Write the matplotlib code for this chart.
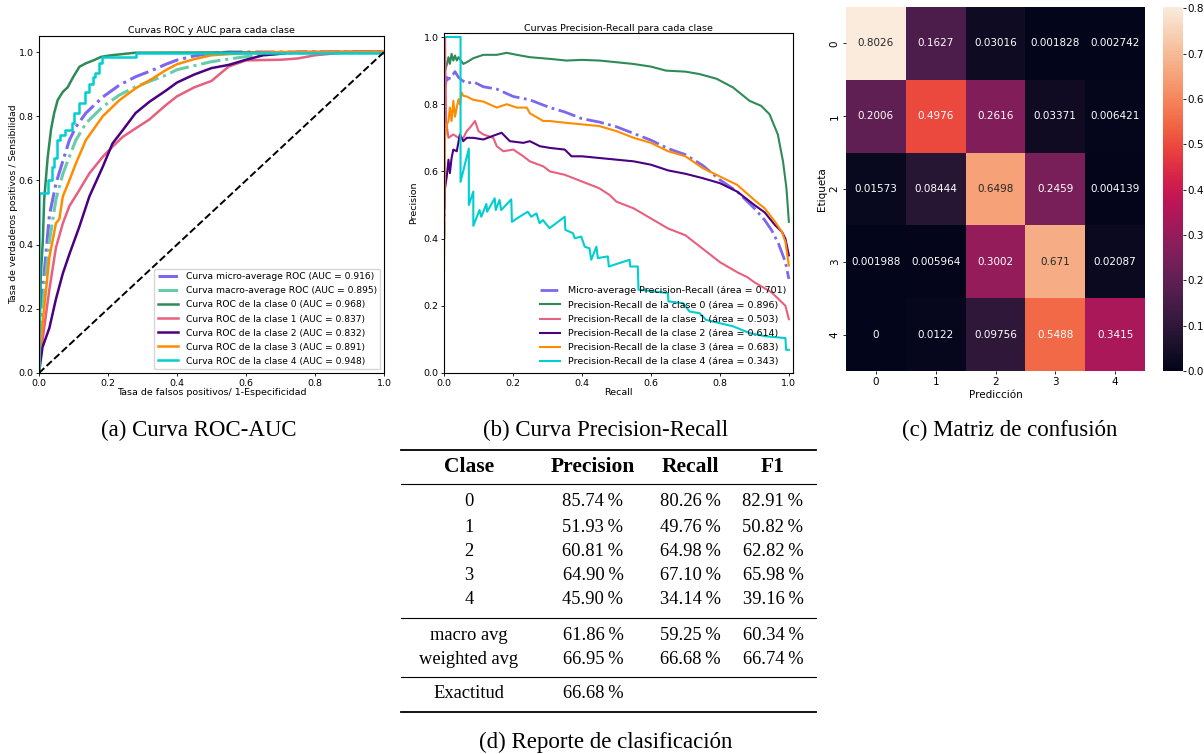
import numpy as np
import matplotlib
matplotlib.use('Agg')
import matplotlib.pyplot as plt
import seaborn as sns

# ---- ROC ----
fpr_micro = [0, 0.002, 0.01, 0.03, 0.049, 0.069, 0.088, 0.107, 0.136, 0.185, 0.233, 0.28, 0.33, 0.368, 0.4, 0.45, 0.5, 0.55, 1.0]
tpr_micro = [0, 0.12, 0.25, 0.49, 0.59, 0.66, 0.725, 0.767, 0.81, 0.86, 0.897, 0.923, 0.944, 0.962, 0.975, 0.988, 0.996, 1.0, 1.0]
fpr_macro = [0, 0.002, 0.01, 0.03, 0.049, 0.069, 0.088, 0.107, 0.136, 0.185, 0.233, 0.28, 0.368, 0.4, 0.5, 0.6, 0.7, 0.8, 1.0]
tpr_macro = [0, 0.1, 0.2, 0.41, 0.54, 0.62, 0.674, 0.726, 0.778, 0.83, 0.866, 0.892, 0.928, 0.945, 0.97, 0.986, 0.995, 0.999, 1.0]
fpr_0 = [0, 0.005, 0.011, 0.015, 0.025, 0.035, 0.044, 0.054, 0.069, 0.083, 0.098, 0.117, 0.136, 0.16, 0.18, 0.21, 0.28, 1.0]
tpr_0 = [0, 0.3, 0.41, 0.54, 0.67, 0.76, 0.81, 0.85, 0.876, 0.89, 0.92, 0.954, 0.965, 0.975, 0.985, 0.99, 0.998, 1.0]
fpr_1 = [0, 0.003, 0.01, 0.03, 0.049, 0.069, 0.088, 0.117, 0.146, 0.185, 0.213, 0.243, 0.28, 0.32, 0.368, 0.4, 0.45, 0.5, 0.55, 0.6, 0.7, 0.75, 0.8, 0.9, 1.0]
tpr_1 = [0, 0.05, 0.1, 0.26, 0.39, 0.466, 0.52, 0.57, 0.622, 0.674, 0.705, 0.736, 0.762, 0.79, 0.835, 0.862, 0.89, 0.91, 0.955, 0.974, 0.976, 0.98, 0.99, 1.0, 1.0]
fpr_2 = [0, 0.01, 0.03, 0.049, 0.069, 0.088, 0.117, 0.146, 0.185, 0.213, 0.243, 0.28, 0.32, 0.368, 0.4, 0.45, 0.5, 0.55, 0.6, 0.65, 0.7, 0.75, 1.0]
tpr_2 = [0, 0.08, 0.14, 0.23, 0.31, 0.37, 0.456, 0.55, 0.643, 0.715, 0.757, 0.81, 0.845, 0.88, 0.905, 0.93, 0.95, 0.96, 0.976, 0.99, 0.995, 1.0, 1.0]
fpr_3 = [0, 0.003, 0.01, 0.03, 0.049, 0.059, 0.069, 0.088, 0.107, 0.136, 0.185, 0.233, 0.28, 0.33, 0.368, 0.4, 0.45, 0.5, 0.6, 0.7, 1.0]
tpr_3 = [0, 0.08, 0.15, 0.36, 0.466, 0.48, 0.55, 0.6, 0.653, 0.726, 0.8, 0.85, 0.887, 0.918, 0.944, 0.962, 0.978, 0.99, 0.997, 1.0, 1.0]
fpr_4 = [0, 0.001, 0.025, 0.037, 0.044, 0.051, 0.06, 0.075, 0.095, 0.102, 0.117, 0.134, 0.146, 0.156, 0.163, 0.173, 0.183, 0.281, 1.0]
tpr_4 = [0, 0.56, 0.60, 0.643, 0.67, 0.726, 0.741, 0.757, 0.78, 0.809, 0.84, 0.876, 0.902, 0.923, 0.934, 0.965, 0.985, 0.998, 1.0]
auc_roc = [0.916, 0.895, 0.968, 0.837, 0.832, 0.891, 0.948]

# ---- Precision-Recall ----
rec_micro = [0, 0.003, 0.008, 0.013, 0.017, 0.027, 0.032, 0.042, 0.051, 0.066, 0.085, 0.114, 0.153, 0.201, 0.249, 0.307, 0.35, 0.4, 0.45, 0.5, 0.55, 0.6, 0.65, 0.7, 0.75, 0.8, 0.85, 0.9, 0.93, 0.95, 0.97, 0.99, 1.0]
prec_micro = [0.4, 0.85, 0.88, 0.865, 0.885, 0.89, 0.897, 0.88, 0.872, 0.862, 0.867, 0.852, 0.845, 0.823, 0.813, 0.79, 0.777, 0.757, 0.747, 0.733, 0.713, 0.693, 0.668, 0.65, 0.618, 0.575, 0.54, 0.49, 0.455, 0.425, 0.385, 0.33, 0.28]
rec_0 = [0, 0.003, 0.008, 0.013, 0.017, 0.022, 0.027, 0.032, 0.037, 0.042, 0.056, 0.066, 0.085, 0.114, 0.153, 0.182, 0.211, 0.249, 0.307, 0.355, 0.4, 0.451, 0.5, 0.548, 0.6, 0.644, 0.7, 0.74, 0.79, 0.838, 0.886, 0.92, 0.944, 0.968, 0.983, 0.993, 1.0]
prec_0 = [1.0, 0.9, 0.917, 0.94, 0.92, 0.95, 0.93, 0.945, 0.93, 0.94, 0.92, 0.925, 0.937, 0.947, 0.947, 0.953, 0.947, 0.94, 0.935, 0.93, 0.932, 0.93, 0.925, 0.92, 0.912, 0.9, 0.897, 0.89, 0.876, 0.85, 0.81, 0.795, 0.77, 0.71, 0.63, 0.55, 0.45]
rec_1 = [0.001, 0.003, 0.006, 0.013, 0.027, 0.042, 0.056, 0.066, 0.075, 0.09, 0.1, 0.114, 0.143, 0.153, 0.172, 0.201, 0.23, 0.249, 0.288, 0.307, 0.35, 0.4, 0.45, 0.48, 0.5, 0.55, 0.6, 0.65, 0.7, 0.75, 0.8, 0.85, 0.88, 0.9, 0.95, 0.97, 0.99, 1.0]
prec_1 = [0.7, 1.0, 0.75, 0.70, 0.71, 0.70, 0.70, 0.72, 0.73, 0.75, 0.72, 0.71, 0.70, 0.675, 0.66, 0.665, 0.645, 0.63, 0.615, 0.60, 0.59, 0.57, 0.55, 0.53, 0.51, 0.49, 0.46, 0.43, 0.41, 0.37, 0.33, 0.30, 0.285, 0.27, 0.24, 0.22, 0.20, 0.16]
rec_2 = [0, 0.003, 0.008, 0.013, 0.017, 0.022, 0.027, 0.037, 0.046, 0.056, 0.066, 0.085, 0.114, 0.153, 0.167, 0.191, 0.23, 0.249, 0.278, 0.307, 0.35, 0.37, 0.4, 0.45, 0.5, 0.55, 0.6, 0.65, 0.7, 0.75, 0.8, 0.85, 0.9, 0.93, 0.96, 0.98, 0.99, 1.0]
prec_2 = [0.45, 0.55, 0.585, 0.635, 0.595, 0.64, 0.665, 0.66, 0.71, 0.69, 0.70, 0.70, 0.695, 0.71, 0.715, 0.69, 0.685, 0.69, 0.675, 0.67, 0.665, 0.645, 0.645, 0.64, 0.635, 0.63, 0.62, 0.603, 0.593, 0.58, 0.565, 0.54, 0.50, 0.478, 0.44, 0.42, 0.40, 0.35]
rec_3 = [0, 0.003, 0.008, 0.013, 0.017, 0.022, 0.027, 0.032, 0.037, 0.042, 0.046, 0.051, 0.056, 0.066, 0.085, 0.114, 0.153, 0.182, 0.211, 0.24, 0.249, 0.288, 0.307, 0.35, 0.4, 0.45, 0.5, 0.55, 0.6, 0.65, 0.7, 0.75, 0.8, 0.85, 0.9, 0.93, 0.96, 0.98, 0.99, 1.0]
prec_3 = [0.3, 0.70, 0.74, 0.75, 0.79, 0.75, 0.81, 0.763, 0.79, 0.815, 0.80, 0.835, 0.825, 0.823, 0.813, 0.808, 0.79, 0.80, 0.79, 0.79, 0.773, 0.75, 0.75, 0.745, 0.74, 0.735, 0.72, 0.70, 0.685, 0.66, 0.645, 0.61, 0.585, 0.56, 0.515, 0.49, 0.45, 0.42, 0.39, 0.32]
rec_4 = [0, 0.048, 0.048, 0.072, 0.072, 0.085, 0.085, 0.103, 0.108, 0.123,
         0.125, 0.147, 0.150, 0.161, 0.166, 0.195, 0.197, 0.219, 0.243, 0.253,
         0.268, 0.277, 0.287, 0.306, 0.350, 0.352, 0.374, 0.379, 0.398, 0.408,
         0.422, 0.427, 0.442, 0.446, 0.475, 0.478, 0.538, 0.540, 0.562, 0.564,
         0.606, 0.649, 0.651, 0.693, 0.712, 0.741, 0.760, 0.838, 0.886, 0.934,
         0.990, 0.992, 1.0]
prec_4 = [1.0, 1.0, 0.569, 0.668, 0.500, 0.540, 0.438, 0.485, 0.465, 0.503,
          0.480, 0.520, 0.485, 0.515, 0.485, 0.517, 0.450, 0.465, 0.480, 0.465,
          0.475, 0.446, 0.455, 0.431, 0.465, 0.426, 0.416, 0.401, 0.406, 0.376,
          0.371, 0.337, 0.376, 0.342, 0.347, 0.317, 0.337, 0.317, 0.317, 0.248,
          0.243, 0.238, 0.213, 0.208, 0.183, 0.178, 0.158, 0.139, 0.119, 0.109,
          0.104, 0.069, 0.069]
area_pr = [0.701, 0.896, 0.503, 0.614, 0.683, 0.343]

# ---- Matriz de confusion (normalizada) ----
cm = np.array([[0.8026, 0.1627, 0.03016, 0.001828, 0.002742],
               [0.2006, 0.4976, 0.2616, 0.03371, 0.006421],
               [0.01573, 0.08444, 0.6498, 0.2459, 0.004139],
               [0.001988, 0.005964, 0.3002, 0.671, 0.02087],
               [0, 0.0122, 0.09756, 0.5488, 0.3415]])

# ---- Reporte de clasificacion ----
clases = ['0', '1', '2', '3', '4']
precision = [85.74, 51.93, 60.81, 64.90, 45.90]
recall = [80.26, 49.76, 64.98, 67.10, 34.14]
f1 = [82.91, 50.82, 62.82, 65.98, 39.16]
avg_names = ['macro avg', 'weighted avg']
avg_precision = [61.86, 66.95]
avg_recall = [59.25, 66.68]
avg_f1 = [60.34, 66.74]
exactitud = 66.68

colors = ['#2e8b57', '#e8607f', '#4b0082', '#ff8c00', '#00ced1']
c_micro = '#7b68ee'
c_macro = '#66cdaa'

W, H = 1204, 754
fig = plt.figure(figsize=(W / 100, H / 100), dpi=100)


def box(l, t, r, b):
    return [l / W, 1 - b / H, (r - l) / W, (b - t) / H]


fs = 6.8
# ROC
ax1 = fig.add_axes(box(39, 36, 384, 373))
ax1.plot(fpr_micro, tpr_micro, color=c_micro, ls='-.', lw=2.2,
         label='Curva micro-average ROC (AUC = {:.3f})'.format(auc_roc[0]))
ax1.plot(fpr_macro, tpr_macro, color=c_macro, ls='-.', lw=2.2,
         label='Curva macro-average ROC (AUC = {:.3f})'.format(auc_roc[1]))
roc_x = [fpr_0, fpr_1, fpr_2, fpr_3, fpr_4]
roc_y = [tpr_0, tpr_1, tpr_2, tpr_3, tpr_4]
for i in range(5):
    ds = 'steps-post' if i == 4 else 'default'
    ax1.plot(roc_x[i], roc_y[i], color=colors[i], lw=1.8, drawstyle=ds,
             label='Curva ROC de la clase {} (AUC = {:.3f})'.format(i, auc_roc[i + 2]))
ax1.plot([0, 1], [0, 1], 'k--', lw=1.4)
ax1.set_xlim(0, 1.0)
ax1.set_ylim(0, 1.05)
ax1.set_title('Curvas ROC y AUC para cada clase', fontsize=fs, pad=2)
ax1.set_xlabel('Tasa de falsos positivos/ 1-Especificidad', fontsize=fs, labelpad=0)
ax1.set_ylabel('Tasa de verdaderos positivos / Sensibilidad', fontsize=6.7, labelpad=0.5)
ax1.tick_params(labelsize=fs, length=2.5, width=0.6, pad=1.5)
ax1.legend(loc='lower right', fontsize=6.6, handlelength=2.2, borderpad=0.4,
           labelspacing=0.55, borderaxespad=0.4)

# Precision-Recall
ax2 = fig.add_axes(box(444, 33, 793, 373))
ax2.plot(rec_micro, prec_micro, color=c_micro, ls='-.', lw=2.0,
         label='Micro-average Precision-Recall (área = {:.3f})'.format(area_pr[0]))
pr_x = [rec_0, rec_1, rec_2, rec_3, rec_4]
pr_y = [prec_0, prec_1, prec_2, prec_3, prec_4]
for i in range(5):
    ax2.plot(pr_x[i], pr_y[i], color=colors[i], lw=1.5,
             label='Precision-Recall de la clase {} (área = {:.3f})'.format(i, area_pr[i + 1]))
ax2.set_xlim(0, 1.012)
ax2.set_ylim(0, 1.012)
ax2.set_title('Curvas Precision-Recall para cada clase', fontsize=fs, pad=1.5)
ax2.set_xlabel('Recall', fontsize=fs, labelpad=0)
ax2.set_ylabel('Precision', fontsize=fs, labelpad=4)
ax2.tick_params(labelsize=fs, length=2.5, width=0.6, pad=1.5)
ax2.legend(loc='lower right', fontsize=6.8, frameon=False, handlelength=2.2,
           labelspacing=0.55, borderaxespad=0.3)

# Matriz de confusion
ax3 = fig.add_axes(box(846, 7, 1145, 371))
cax = fig.add_axes(box(1163, 7, 1183, 371))
sns.heatmap(cm, annot=True, fmt='.4g', ax=ax3, cbar_ax=cax,
            annot_kws={'size': 7.5})
ax3.set_xlabel('Predicción', fontsize=7.5, labelpad=2)
ax3.set_ylabel('Etiqueta', fontsize=7.5, labelpad=2)
ax3.tick_params(labelsize=7.5, length=2.5, width=0.6, pad=2)
plt.setp(ax3.get_yticklabels(), rotation=90, va='center')
cax.tick_params(labelsize=7.5, length=2.5, width=0.6, pad=1)

# Subtitulos y tabla
serif = ['Liberation Serif', 'DejaVu Serif']
ov = fig.add_axes([0, 0, 1, 1])
ov.set_xlim(0, W)
ov.set_ylim(H, 0)
ov.axis('off')

cap_fs = 16.5
ov.text(199, 430, '(a) Curva ROC-AUC', fontsize=cap_fs, family=serif, ha='center', va='center')
ov.text(606, 430, '(b) Curva Precision-Recall', fontsize=cap_fs, family=serif, ha='center', va='center')
ov.text(1010, 430, '(c) Matriz de confusión', fontsize=cap_fs, family=serif, ha='center', va='center')
ov.text(606, 742, '(d) Reporte de clasificación', fontsize=cap_fs, family=serif, ha='center', va='center')

col_x = [469, 593, 690, 773]
tfs = 13.3
for x, h in zip(col_x, ['Clase', 'Precision', 'Recall', 'F1']):
    ov.text(x, 467, h, fontsize=15.5, family=serif, weight='bold', ha='center', va='center')


def pct(v):
    return '{:.2f}\u2009%'.format(v)


row_y = [502, 527, 551, 576, 600]
for i in range(len(clases)):
    vals = [clases[i], pct(precision[i]), pct(recall[i]), pct(f1[i])]
    for x, v in zip(col_x, vals):
        ov.text(x, row_y[i], v, fontsize=tfs, family=serif, ha='center', va='center')

avg_y = [635, 660]
for i in range(len(avg_names)):
    vals = [avg_names[i], pct(avg_precision[i]), pct(avg_recall[i]), pct(avg_f1[i])]
    for x, v in zip(col_x, vals):
        ov.text(x, avg_y[i], v, fontsize=tfs, family=serif, ha='center', va='center')

ov.text(col_x[0], 694, 'Exactitud', fontsize=tfs, family=serif, ha='center', va='center')
ov.text(col_x[1], 694, pct(exactitud), fontsize=tfs, family=serif, ha='center', va='center')

for y, lw in [(450, 1.3), (484, 0.8), (618, 0.8), (677, 0.8), (712, 1.3)]:
    ov.plot([401, 816], [y, y], color='black', lw=lw)

fig.savefig('out.png', dpi=100)
